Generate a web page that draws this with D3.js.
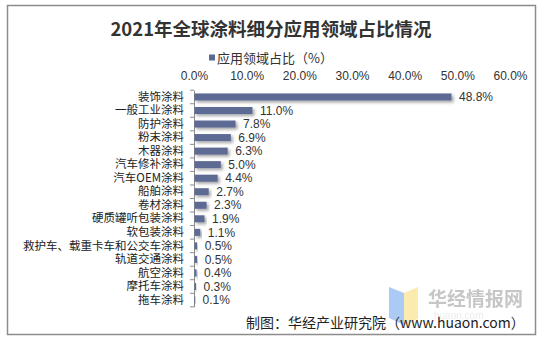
<!DOCTYPE html>
<html>
<head>
<meta charset="utf-8">
<script src="https://cdn.jsdelivr.net/npm/d3@7/dist/d3.min.js"></script>
<style>
  html, body { margin: 0; padding: 0; background: #fff; }
  svg { display: block; }
</style>
</head>
<body>
<svg id="chart" width="544" height="344"></svg>
<script>
// Application segments of global coatings, 2021
const categories = [
  "装饰涂料", "一般工业涂料", "防护涂料", "粉末涂料", "木器涂料",
  "汽车修补涂料", "汽车OEM涂料", "船舶涂料", "卷材涂料", "硬质罐听包装涂料",
  "软包装涂料", "救护车、载重卡车和公交车涂料", "轨道交通涂料", "航空涂料",
  "摩托车涂料", "拖车涂料"
];
const shares = [48.8, 11.0, 7.8, 6.9, 6.3, 5.0, 4.4, 2.7, 2.3, 1.9, 1.1, 0.5, 0.5, 0.4, 0.3, 0.1];
const xTicks = [0, 10, 20, 30, 40, 50, 60];
const seriesName = "应用领域占比（%）";
const titleText = "2021年全球涂料细分应用领域占比情况";
const sourceText = "制图：华经产业研究院（www.huaon.com）";

const barColor = "#5d6a94";
const cjk = "'Noto Sans CJK SC', 'Noto Sans', sans-serif";
const latin = "'Liberation Sans', Arial, sans-serif";

const svg = d3.select("#chart");

// soft drop shadow under each bar
const defs = svg.append("defs");
const shadow = defs.append("filter").attr("id", "barShadow")
  .attr("x", "-10%").attr("y", "-50%").attr("width", "130%").attr("height", "250%");
shadow.append("feDropShadow")
  .attr("dx", 2).attr("dy", 2).attr("stdDeviation", 1.4)
  .attr("flood-color", "#000").attr("flood-opacity", 0.35);

// outer frame
svg.append("rect")
  .attr("x", 7.5).attr("y", 5.5).attr("width", 528).attr("height", 329)
  .attr("fill", "#fff").attr("stroke", "#8c8c8c").attr("stroke-width", 1.5);

// title
svg.append("text")
  .attr("x", 271).attr("y", 35.5)
  .attr("text-anchor", "middle")
  .attr("font-family", cjk).attr("font-weight", "bold")
  .attr("font-size", 18.5).attr("fill", "#333")
  .text(titleText);

// legend
svg.append("rect").attr("x", 209).attr("y", 54.5).attr("width", 6).attr("height", 6).attr("fill", barColor);
svg.append("text")
  .attr("x", 217).attr("y", 62.5)
  .attr("font-family", cjk).attr("font-size", 13).attr("fill", "#333")
  .text(seriesName);

const x = d3.scaleLinear().domain([0, 60]).range([194, 510]);
const y = d3.scaleBand().domain(categories).range([90.2, 306.8]).paddingInner(0.48).paddingOuter(0.24);

// top value axis (labels only)
const xAxis = svg.append("g")
  .attr("transform", "translate(0,70)")
  .call(d3.axisTop(x).tickValues(xTicks).tickSize(0).tickPadding(0)
    .tickFormat(d => d3.format(".1f")(d) + "%"));
xAxis.select(".domain").remove();
xAxis.selectAll("text")
  .attr("dy", "0.32em").attr("y", 6)
  .attr("font-family", latin).attr("font-size", 12).attr("fill", "#333");

// category axis
const yAxis = svg.append("g")
  .attr("transform", "translate(194,0)")
  .call(d3.axisLeft(y).tickSize(0).tickPadding(10));
yAxis.select(".domain").attr("stroke", "#8c8c8c");
yAxis.selectAll("text")
  .attr("font-family", cjk).attr("font-size", 11.5).attr("fill", "#222");

// tick marks on the category boundaries
const [y0, y1] = y.range();
const edges = d3.range(categories.length + 1).map(i => y0 + i * (y1 - y0) / categories.length);
svg.append("g").selectAll("line").data(edges).join("line")
  .attr("x1", 190).attr("x2", 194)
  .attr("y1", d => d).attr("y2", d => d)
  .attr("stroke", "#8c8c8c").attr("stroke-width", 1);

// bars
svg.append("g").selectAll("rect").data(categories).join("rect")
  .attr("x", x(0) + 0.5)
  .attr("y", d => y(d))
  .attr("width", (d, i) => Math.max(0.8, x(shares[i]) - x(0)))
  .attr("height", y.bandwidth())
  .attr("fill", barColor)
  .attr("filter", "url(#barShadow)");

// value labels
svg.append("g").selectAll("text").data(categories).join("text")
  .attr("x", (d, i) => x(shares[i]) + 8)
  .attr("y", d => y(d) + y.bandwidth() / 2)
  .attr("dy", "0.35em")
  .attr("font-family", latin).attr("font-size", 12).attr("fill", "#333")
  .text((d, i) => d3.format(".1f")(shares[i]) + "%");

// watermark
const wm = svg.append("g").attr("opacity", 0.85);
wm.append("polygon").attr("points", "389,287 404,293 404,325 389,318").attr("fill", "#9dc1f5");
wm.append("polygon").attr("points", "404,293 418,287 418,319 404,325").attr("fill", "#fbe8a0");
wm.append("text").attr("x", 428).attr("y", 306)
  .attr("font-family", cjk).attr("font-weight", "bold").attr("font-size", 19).attr("fill", "#bdbdbd")
  .text("华经情报网");
wm.append("text").attr("x", 434).attr("y", 319)
  .attr("font-family", latin).attr("font-size", 10).attr("fill", "#e8e8e8")
  .text("huaon.com");

// source note
svg.append("text")
  .attr("x", 246).attr("y", 328)
  .attr("font-family", cjk).attr("font-size", 14).attr("fill", "#222")
  .text(sourceText);
</script>
</body>
</html>
